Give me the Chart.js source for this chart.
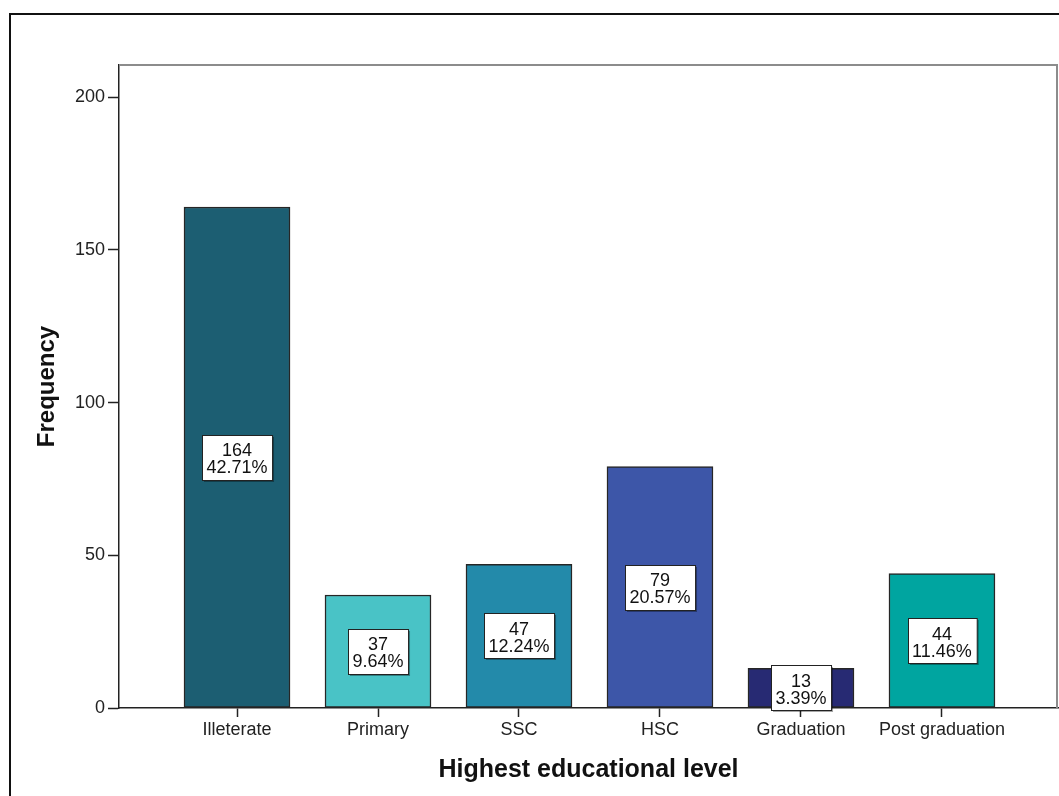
<!DOCTYPE html>
<html lang="en">
<head>
  <meta charset="UTF-8">
  <title>Highest educational level</title>
  <script src="https://cdn.jsdelivr.net/npm/chart.js"></script>
  <style>
    body {
      margin: 0;
      padding: 0;
      background: #fff;
      overflow: hidden;
      width: 1059px;
      height: 796px;
      position: relative;
    }

    /* outer frame, only top and left edges fall inside the picture */
    .frame {
      position: absolute;
      left: 9px;
      top: 13px;
      width: 1200px;
      height: 900px;
      border-left: 2px solid #111;
      border-top: 2px solid #111;
    }

    canvas {
      position: absolute;
      left: 0;
      top: 0;
    }
  </style>
</head>
<body>
  <div class="frame"></div>
  <canvas id="eduChart" width="1059" height="796"></canvas>

  <script>
    // data
    const categories = ['Illeterate', 'Primary', 'SSC', 'HSC', 'Graduation', 'Post graduation'];
    const frequencies = [164, 37, 47, 79, 13, 44];
    const percents = ['42.71%', '9.64%', '12.24%', '20.57%', '3.39%', '11.46%'];
    const yTicks = [0, 50, 100, 150, 200];

    const barColors = ['#1c5e72', '#49c3c6', '#238aaa', '#3d56a8', '#272a73', '#00a5a0'];
    const font = "'Liberation Sans', Arial, sans-serif";

    // grey top/right edge of the plot box
    const plotFrame = {
      id: 'plotFrame',
      afterDraw(chart) {
        const { ctx, chartArea: a } = chart;
        ctx.save();
        ctx.strokeStyle = '#8c8c8c';
        ctx.lineWidth = 2;
        ctx.beginPath();
        ctx.moveTo(a.left, a.top);
        ctx.lineTo(a.right - 1, a.top);
        ctx.lineTo(a.right - 1, a.bottom);
        ctx.stroke();
        ctx.restore();
      }
    };

    // white boxed labels in the middle of each bar
    const boxLabels = {
      id: 'boxLabels',
      afterDatasetsDraw(chart) {
        const { ctx } = chart;
        const meta = chart.getDatasetMeta(0);
        ctx.save();
        ctx.font = '18px ' + font;
        ctx.textAlign = 'center';
        ctx.textBaseline = 'middle';
        meta.data.forEach((bar, i) => {
          const l1 = String(frequencies[i]);
          const l2 = percents[i];
          const w = Math.max(ctx.measureText(l1).width, ctx.measureText(l2).width) + 9;
          const h = 45;
          const cx = bar.x;
          const cy = (bar.y + bar.base) / 2;
          const x = Math.round(cx - w / 2) + 0.5;
          const y = Math.round(cy - h / 2) + 0.5;
          ctx.fillStyle = 'rgba(0,0,0,0.35)';
          ctx.fillRect(x + 1.5, y + 1.5, w, h);
          ctx.fillStyle = '#fff';
          ctx.fillRect(x, y, w, h);
          ctx.strokeStyle = '#222';
          ctx.lineWidth = 1;
          ctx.strokeRect(x, y, w, h);
          ctx.fillStyle = '#111';
          ctx.fillText(l1, cx, cy - 6);
          ctx.fillText(l2, cx, cy + 11);
        });
        ctx.restore();
      }
    };

    const ctx = document.getElementById('eduChart').getContext('2d');
    const eduChart = new Chart(ctx, {
      type: 'bar',
      data: {
        datasets: [{
          label: 'Frequency',
          data: frequencies.map((v, i) => ({ x: i, y: v })),
          backgroundColor: barColors,
          borderColor: '#262626',
          borderWidth: 1.5,
          borderSkipped: false,
          barThickness: 106
        }]
      },
      options: {
        responsive: false,
        animation: false,
        layout: {
          padding: { left: 0, top: 65, right: 1, bottom: 0 }
        },
        plugins: {
          legend: { display: false },
          tooltip: { enabled: false }
        },
        scales: {
          x: {
            type: 'linear',
            offset: false,
            min: -0.837,
            max: 5.823,
            afterBuildTicks(scale) {
              scale.ticks = categories.map((c, i) => ({ value: i }));
            },
            afterFit(scale) {
              scale.height = 88;
            },
            ticks: {
              callback: (v) => categories[v],
              color: '#222',
              font: { family: font, size: 18 },
              padding: 2,
              maxRotation: 0,
              autoSkip: false
            },
            grid: {
              offset: false,
              drawOnChartArea: false,
              drawTicks: true,
              tickLength: 9,
              tickColor: '#222',
              tickWidth: 1.5
            },
            border: { color: '#222', width: 1.5 },
            title: {
              display: true,
              text: 'Highest educational level',
              color: '#111',
              font: { family: font, size: 25, weight: 'bold' },
              padding: { top: 0, bottom: 11 }
            }
          },
          y: {
            min: 0,
            max: 210.5,
            afterBuildTicks(scale) {
              scale.ticks = yTicks.map(v => ({ value: v }));
            },
            afterFit(scale) {
              scale.width = 119;
            },
            ticks: {
              color: '#222',
              font: { family: font, size: 18 },
              padding: 3
            },
            grid: {
              drawOnChartArea: false,
              drawTicks: true,
              tickLength: 11,
              tickColor: '#222',
              tickWidth: 1.5
            },
            border: { color: '#222', width: 1.5 },
            title: {
              display: true,
              text: 'Frequency',
              color: '#111',
              font: { family: font, size: 24, weight: 'bold' },
              padding: { top: 33, bottom: 0 }
            }
          }
        }
      },
      plugins: [plotFrame, boxLabels]
    });
  </script>
</body>
</html>
